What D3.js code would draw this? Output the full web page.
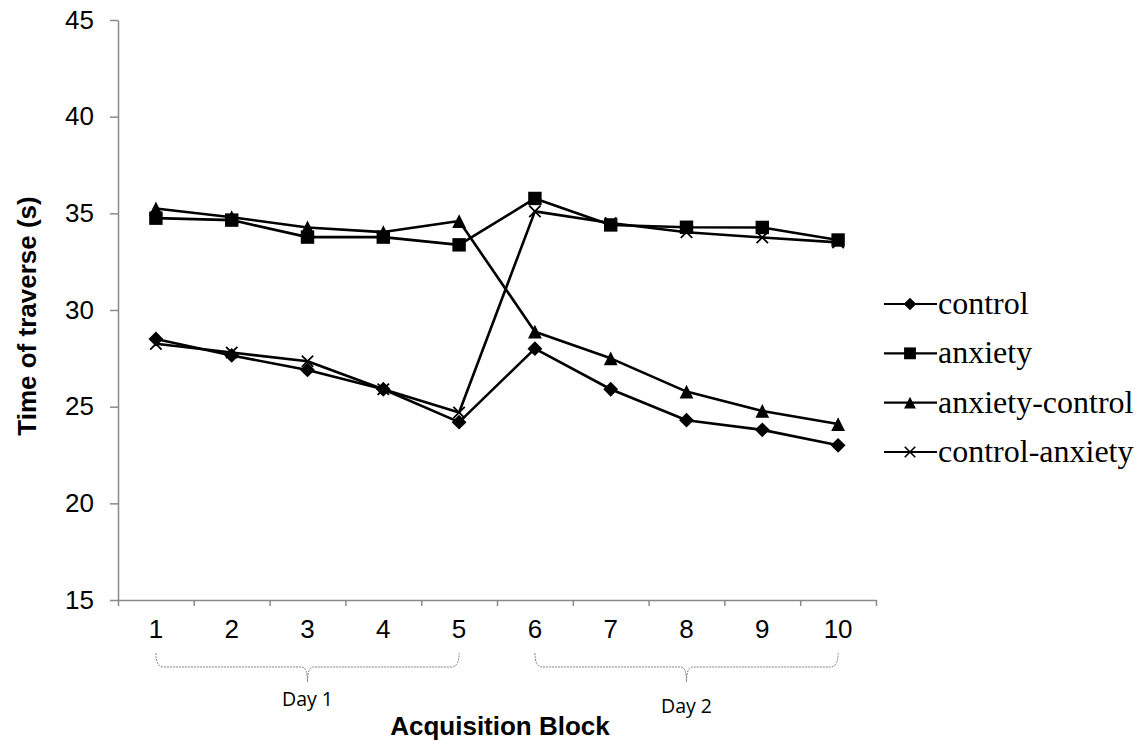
<!DOCTYPE html>
<html>
<head>
<meta charset="utf-8">
<script src="https://cdn.jsdelivr.net/npm/d3@7"></script>
<style>
  html, body { margin: 0; padding: 0; background: #fff; }
  svg { display: block; }
</style>
</head>
<body>
<svg id="chart" width="1141" height="744"></svg>
<script>
// Acquisition blocks (x categories)
const blocks = ["1", "2", "3", "4", "5", "6", "7", "8", "9", "10"];

// Mean time of traverse (s) per block for each group
const control        = [28.5, 27.65, 26.9, 25.9, 24.2, 28.0, 25.9, 24.3, 23.8, 23.0];
const anxiety        = [34.75, 34.65, 33.77, 33.77, 33.37, 35.77, 34.4, 34.28, 34.27, 33.62];
const anxietyControl = [35.25, 34.8, 34.27, 34.03, 34.6, 28.88, 27.5, 25.78, 24.78, 24.1];
const controlAnxiety = [28.25, 27.8, 27.35, 25.9, 24.7, 35.1, 34.5, 34.02, 33.75, 33.5];

const seriesNames = ["control", "anxiety", "anxiety-control", "control-anxiety"];
const seriesValues = [control, anxiety, anxietyControl, controlAnxiety];

const yTicks = [15, 20, 25, 30, 35, 40, 45];

// Day groupings shown as braces under the axis
const dayLabels = ["Day 1", "Day 2"];
const dayStart = ["1", "6"];
const dayEnd = ["5", "10"];

const svg = d3.select("#chart");

const plotLeft = 118, plotRight = 876, plotTop = 20, plotBottom = 600;

const x = d3.scaleBand().domain(blocks).range([plotLeft, plotRight]);
const xEdges = d3.scaleLinear().domain([0, blocks.length]).range([plotLeft, plotRight]);
const y = d3.scaleLinear().domain([15, 45]).range([plotBottom, plotTop]);
const cx = d => x(d) + x.bandwidth() / 2;

const axisColor = "#898989";

// Y axis
const yAxis = svg.append("g")
  .attr("transform", `translate(${plotLeft},0)`)
  .call(d3.axisLeft(y).tickValues(yTicks).tickSize(8).tickPadding(16).tickSizeOuter(0));
yAxis.select(".domain").attr("stroke", axisColor).attr("stroke-width", 1.5);
yAxis.selectAll(".tick line").attr("stroke", axisColor).attr("stroke-width", 1.5);
yAxis.selectAll(".tick text")
  .attr("font-family", "'Liberation Sans', Arial, sans-serif")
  .attr("font-size", 26).attr("fill", "#000");

// X axis: tick marks between categories
const xTickAxis = svg.append("g")
  .attr("transform", `translate(0,${plotBottom})`)
  .call(d3.axisBottom(xEdges).tickValues(d3.range(0, blocks.length + 1)).tickSize(6).tickFormat("").tickSizeOuter(0));
xTickAxis.select(".domain").attr("stroke", axisColor).attr("stroke-width", 1.5);
xTickAxis.selectAll(".tick line").attr("stroke", axisColor).attr("stroke-width", 1.5);

// X axis: category labels
const xLabelAxis = svg.append("g")
  .attr("transform", `translate(0,${plotBottom})`)
  .call(d3.axisBottom(x).tickSize(0).tickPadding(20));
xLabelAxis.select(".domain").remove();
xLabelAxis.selectAll(".tick text")
  .attr("font-family", "'Liberation Sans', Arial, sans-serif")
  .attr("font-size", 26).attr("fill", "#000");

// Axis titles
svg.append("text")
  .attr("transform", `translate(36,${(plotTop + plotBottom) / 2 + 6}) rotate(-90)`)
  .attr("text-anchor", "middle")
  .attr("font-family", "'Liberation Sans', Arial, sans-serif")
  .attr("font-weight", "bold").attr("font-size", 26)
  .text("Time of traverse (s)");

svg.append("text")
  .attr("x", (plotLeft + plotRight) / 2 + 3).attr("y", 735)
  .attr("text-anchor", "middle")
  .attr("font-family", "'Liberation Sans', Arial, sans-serif")
  .attr("font-weight", "bold").attr("font-size", 26)
  .text("Acquisition Block");

// Braces grouping the blocks by day
const braceTop = 653, braceMid = 667, braceTip = 682;
dayLabels.forEach((label, i) => {
  const x0 = cx(dayStart[i]), x1 = cx(dayEnd[i]);
  const xm = (x0 + x1) / 2;
  const p = d3.path();
  p.moveTo(x0, braceTop);
  p.quadraticCurveTo(x0, braceMid, x0 + 8, braceMid);
  p.lineTo(xm - 6, braceMid);
  p.quadraticCurveTo(xm, braceMid, xm, braceTip);
  p.quadraticCurveTo(xm, braceMid, xm + 6, braceMid);
  p.lineTo(x1 - 8, braceMid);
  p.quadraticCurveTo(x1, braceMid, x1, braceTop);
  svg.append("path")
    .attr("d", p.toString())
    .attr("fill", "none")
    .attr("stroke", "#7f7f7f")
    .attr("stroke-width", 1)
    .attr("stroke-dasharray", "2,1");
  svg.append("text")
    .attr("x", xm).attr("y", i === 0 ? 706 : 713)
    .attr("text-anchor", "middle")
    .attr("font-family", "'Open Sans', sans-serif")
    .attr("font-size", 19.5).attr("fill", "#000")
    .text(label);
});

// Marker shapes
const diamond = {
  draw(ctx, size) {
    const r = Math.sqrt(size / 2);
    ctx.moveTo(0, -r); ctx.lineTo(r, 0); ctx.lineTo(0, r); ctx.lineTo(-r, 0); ctx.closePath();
  }
};
const square = {
  draw(ctx, size) {
    const h = Math.sqrt(size) / 2;
    ctx.rect(-h, -h, 2 * h, 2 * h);
  }
};
const triangle = {
  draw(ctx, size) {
    const h = Math.sqrt(size) / 2;
    ctx.moveTo(0, -h); ctx.lineTo(h, h); ctx.lineTo(-h, h); ctx.closePath();
  }
};
const cross = {
  draw(ctx, size) {
    const h = Math.sqrt(size) / 2;
    ctx.moveTo(-h, -h); ctx.lineTo(h, h);
    ctx.moveTo(h, -h); ctx.lineTo(-h, h);
  }
};
const markerTypes = [diamond, square, triangle, cross];
const markerSizes = [110, 180, 190, 130];
const legendMarkerSizes = [80, 140, 140, 110];
const markerFilled = [true, true, true, false];

const line = d3.line().x((d, i) => cx(blocks[i])).y(d => y(d));

seriesValues.forEach((vals, s) => {
  const g = svg.append("g");
  g.append("path")
    .attr("d", line(vals))
    .attr("fill", "none")
    .attr("stroke", "#000")
    .attr("stroke-width", 2.6)
    .attr("stroke-linejoin", "round");
  g.selectAll("path.marker")
    .data(vals)
    .join("path")
    .attr("class", "marker")
    .attr("transform", (d, i) => `translate(${cx(blocks[i])},${y(d)})`)
    .attr("d", d3.symbol(markerTypes[s], markerSizes[s]))
    .attr("fill", markerFilled[s] ? "#000" : "none")
    .attr("stroke", "#000")
    .attr("stroke-width", markerFilled[s] ? 0 : 1.8);
});

// Legend
const legendY = d3.scaleLinear().domain([0, 3]).range([304, 452]);
const legend = svg.append("g");
seriesNames.forEach((name, s) => {
  const ly = legendY(s);
  legend.append("line")
    .attr("x1", 884).attr("x2", 937).attr("y1", ly).attr("y2", ly)
    .attr("stroke", "#000").attr("stroke-width", 2.2);
  legend.append("path")
    .attr("transform", `translate(910,${ly})`)
    .attr("d", d3.symbol(markerTypes[s], legendMarkerSizes[s]))
    .attr("fill", markerFilled[s] ? "#000" : "none")
    .attr("stroke", "#000")
    .attr("stroke-width", markerFilled[s] ? 0 : 1.6);
  legend.append("text")
    .attr("x", 938).attr("y", ly + 10)
    .attr("font-family", "'Liberation Serif', 'Times New Roman', serif")
    .attr("font-size", 32).attr("fill", "#000")
    .text(name);
});
</script>
</body>
</html>
